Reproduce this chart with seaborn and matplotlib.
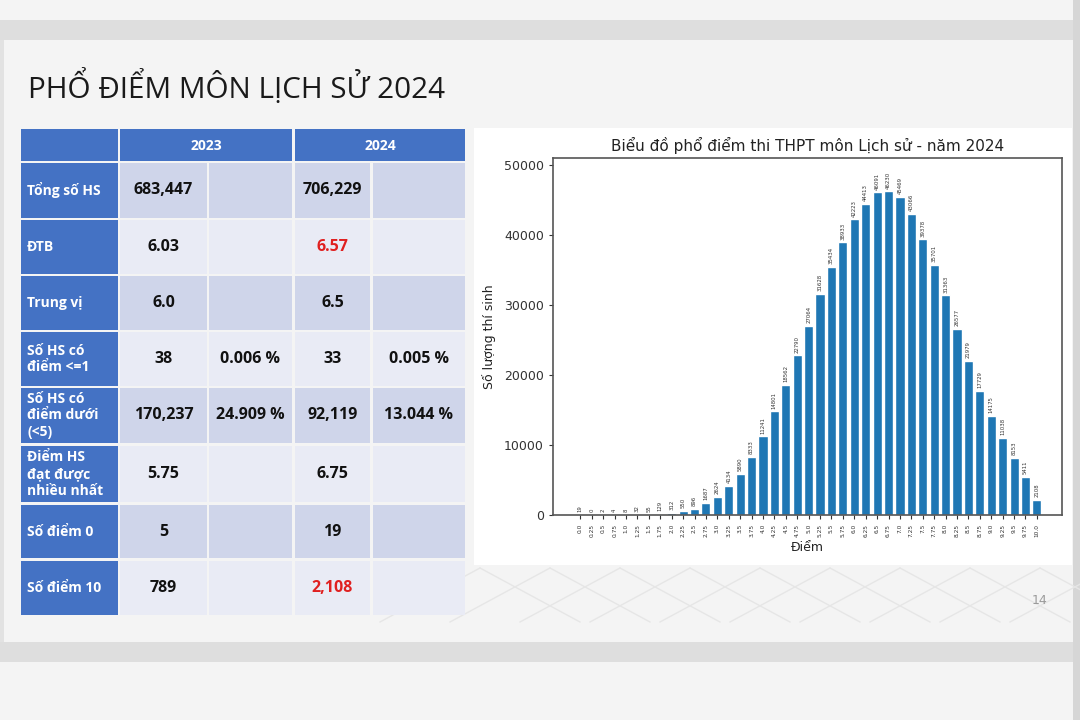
import matplotlib
matplotlib.use("Agg")
import matplotlib.pyplot as plt
import seaborn as sns
from matplotlib.patches import Rectangle
from matplotlib.lines import Line2D

# ---------------- data ----------------
scores = ['0.0', '0.25', '0.5', '0.75', '1.0', '1.25', '1.5', '1.75', '2.0', '2.25',
          '2.5', '2.75', '3.0', '3.25', '3.5', '3.75', '4.0', '4.25', '4.5', '4.75',
          '5.0', '5.25', '5.5', '5.75', '6.0', '6.25', '6.5', '6.75', '7.0', '7.25',
          '7.5', '7.75', '8.0', '8.25', '8.5', '8.75', '9.0', '9.25', '9.5', '9.75', '10.0']
counts = [19, 0, 2, 4, 8, 32, 55, 129, 312, 550,
          896, 1687, 2624, 4134, 5890, 8333, 11241, 14801, 18562, 22790,
          27064, 31628, 35434, 38933, 42223, 44413, 46091, 46230, 45469, 43066,
          39378, 35701, 31363, 26577, 21979, 17729, 14175, 11038, 8153, 5411, 2108]

header_years = ['2023', '2024']
row_labels = ['Tổng số HS', 'ĐTB', 'Trung vị', 'Số HS có\nđiểm <=1',
              'Số HS có\nđiểm dưới\n(<5)', 'Điểm HS\nđạt được\nnhiều nhất',
              'Số điểm 0', 'Số điểm 10']
vals_2023 = ['683,447', '6.03', '6.0', '38', '170,237', '5.75', '5', '789']
pct_2023 = ['', '', '', '0.006 %', '24.909 %', '', '', '']
vals_2024 = ['706,229', '6.57', '6.5', '33', '92,119', '6.75', '19', '2,108']
pct_2024 = ['', '', '', '0.005 %', '13.044 %', '', '', '']
red_2024 = [False, True, False, False, False, False, False, True]

slide_title = 'PHỔ ĐIỂM MÔN LỊCH SỬ 2024'
chart_title = 'Biểu đồ phổ điểm thi THPT môn Lịch sử - năm 2024'

# ---------------- figure ----------------
W, H = 1080, 720
fig = plt.figure(figsize=(10.8, 7.2), dpi=100)
fig.patch.set_facecolor('#f4f4f4')


def rect(x0, y0, x1, y1, color, z=0):
    fig.add_artist(Rectangle((x0 / W, 1 - y1 / H), (x1 - x0) / W, (y1 - y0) / H,
                             transform=fig.transFigure, facecolor=color,
                             edgecolor='none', lw=0, zorder=z))


def ftext(x, y, s, **kw):
    fig.text(x / W, 1 - y / H, s, **kw)


# page background bands
rect(0, 0, W, 20, '#f4f4f4')
rect(0, 20, W, 40, '#dedede')
rect(0, 40, W, 642, '#f4f4f4')
rect(0, 642, W, 662, '#dedede')
rect(0, 662, W, H, '#f4f4f4')
rect(1073, 0, W, H, '#d6d6d6')
rect(0, 40, 4, 642, '#e2e2e2')

# faint diagonal pattern under the chart
for k in range(0, 10):
    x0 = 480 + k * 70
    for dx in (1, -1):
        fig.add_artist(Line2D([x0 / W, (x0 + dx * 100) / W], [1 - 568 / H, 1 - 622 / H],
                              transform=fig.transFigure, color='#e6e6e6', lw=1.0, zorder=0.5))

# slide title
ftext(28, 87, slide_title, fontsize=21.3, family=['Open Sans', 'DejaVu Sans'],
      color='#1a1a1a', va='center', ha='left')

# ---------------- table ----------------
blue = '#4472c4'
dark = '#cfd5ea'
light = '#e9ebf5'
rows_y = [(163, 218), (220, 274), (276, 330), (332, 386), (388, 443),
          (446, 502), (505, 558), (561, 615)]
cols_x = [(21, 118), (120, 207), (209, 292), (295, 370), (373, 465)]
tfont = ['Open Sans', 'DejaVu Sans']

# header
rect(21, 129, 118, 161, blue, 1)
rect(120, 129, 292, 161, blue, 1)
rect(295, 129, 465, 161, blue, 1)
ftext(206, 146, header_years[0], fontsize=10, weight='bold', color='white',
      ha='center', va='center', family=tfont)
ftext(380, 146, header_years[1], fontsize=10, weight='bold', color='white',
      ha='center', va='center', family=tfont)

for i, (y0, y1) in enumerate(rows_y):
    shade = dark if i % 2 == 0 else light
    rect(cols_x[0][0], y0, cols_x[0][1], y1, blue, 1)
    for (x0, x1) in cols_x[1:]:
        rect(x0, y0, x1, y1, shade, 1)
    yc = (y0 + y1) / 2
    ftext(27, yc, row_labels[i], fontsize=10, weight='bold', color='white',
          ha='left', va='center', linespacing=1.25, family=tfont)
    cells = [vals_2023[i], pct_2023[i], vals_2024[i], pct_2024[i]]
    for j, s in enumerate(cells):
        x0, x1 = cols_x[j + 1]
        col = '#e02020' if (j == 2 and red_2024[i]) else '#111111'
        ftext((x0 + x1) / 2, yc, s, fontsize=11.5, weight='bold', color=col,
              ha='center', va='center', family=tfont)

# ---------------- chart ----------------
rect(474, 128, 1072, 565, 'white', 1)
sns.set_style('ticks')
plt.rcParams['font.family'] = ['DejaVu Sans']

ax = fig.add_axes([553 / W, 1 - 515 / H, (1062 - 553) / W, (515 - 158) / H])
ax.set_zorder(2)
sns.barplot(x=scores, y=counts, color='#1f77b4', saturation=1, width=0.8, ax=ax)
ax.bar_label(ax.containers[0], labels=[str(c) for c in counts], rotation=90,
             fontsize=3.9, padding=2, color='#333333')
ax.set_xlim(-2.4, 42.2)
ax.set_ylim(0, 51000)
ax.set_yticks([0, 10000, 20000, 30000, 40000, 50000])
ax.tick_params(axis='y', labelsize=9, colors='#333333', length=3)
ax.tick_params(axis='x', labelsize=4.2, rotation=90, colors='#333333', length=3)
for s in ax.spines.values():
    s.set_visible(True)
    s.set_color('#555555')
    s.set_linewidth(1.2)
ax.set_xlabel('Điểm', fontsize=9, color='#222222', labelpad=3)
ax.set_ylabel('Số lượng thí sinh', fontsize=9, color='#222222', labelpad=6)
ax.set_title(chart_title, fontsize=11, color='#222222', pad=5)
ax.set_facecolor('white')

# page number
ftext(1040, 601, '14', fontsize=9, color='#9a9a9a', ha='center', va='center')

fig.savefig('out.png', dpi=100, facecolor=fig.get_facecolor())
